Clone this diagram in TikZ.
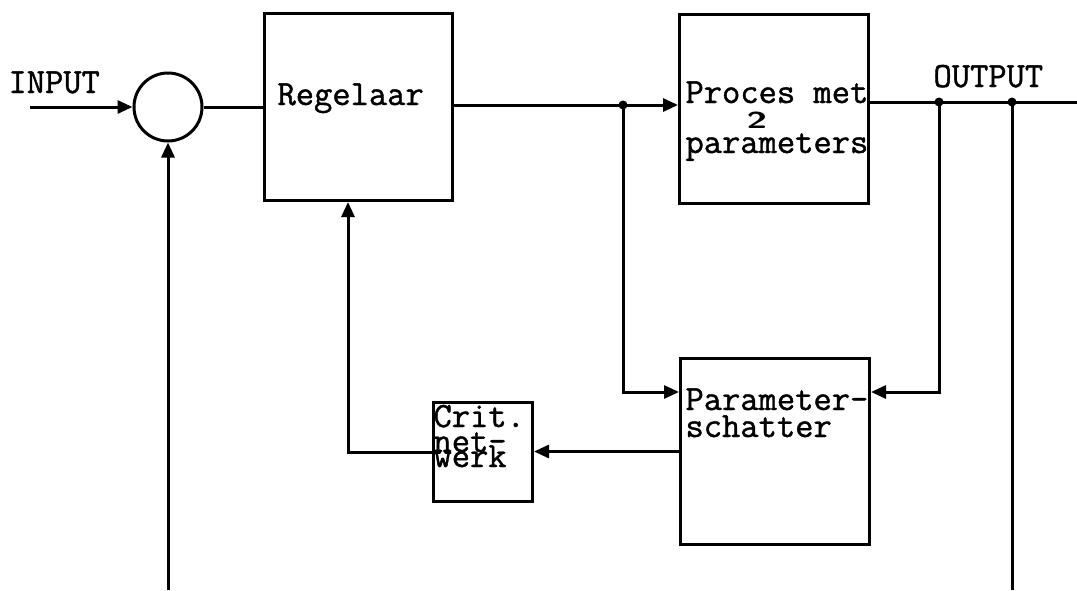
\documentclass[tikz,border=0pt]{standalone}
\usepackage{fontspec}
\newfontfamily\twfont{Latin Modern Mono}[FakeBold=1.2]
\usetikzlibrary{arrows.meta}
\begin{document}
\begin{tikzpicture}[x=1pt,y=-1pt,line width=3pt,
  blk/.style={draw,line width=3pt,inner sep=0pt,anchor=north west},
  lbl/.style={font=\fontsize{35.5}{35.5}\selectfont\twfont,anchor=base west,inner sep=0pt},
  arr/.style={-{Triangle[length=15pt,width=13pt]}},
  dot/.style={circle,fill,inner sep=0pt,minimum size=9pt}]
\useasboundingbox (0,0) rectangle (1077,590);
% blocks
\node[draw,circle,minimum size=68pt,inner sep=0pt] (sum) at (168,107) {};
\node[blk,minimum width=188pt,minimum height=187pt] (reg) at (263,12) {};
\node[blk,minimum width=189pt,minimum height=189pt] (proc) at (678,13) {};
\node[blk,minimum width=189pt,minimum height=186pt] (ps) at (679,357) {};
\node[blk,minimum width=99pt,minimum height=99pt] (crit) at (432,401) {};
% labels
\node[lbl] (tin) at (7,93) {INPUT};
\node[lbl] (tout) at (932,87) {OUTPUT};
\node[lbl] (treg) at (276,105) {Regelaar};
\node[lbl] (tp1) at (684,103) {Proces met};
\node[lbl,font=\fontsize{22}{22}\selectfont\bfseries\sffamily] (tp2) at (745,128) {\scalebox{1.7}[1.05]{2}};
\node[lbl] (tp3) at (684,153) {parameters};
\node[lbl] (tps1) at (684,410) {Parameter-};
\node[lbl] (tps2) at (684,437) {schatter};
\node[lbl] (tc1) at (432,427) {Crit.};
\node[lbl] (tc2) at (432,452) {net-};
\node[lbl] (tc3) at (432,467) {werk};
% coordinates
\coordinate (in) at (30,107);
\coordinate (j1) at (623,105);
\coordinate (a1) at (623,392);
\coordinate (o1) at (939,102);
\coordinate (o2) at (1012,102);
\coordinate (oend) at (1077,102);
\coordinate (a2) at (939,392);
\coordinate (o2b) at (1012,590);
\coordinate (a4) at (348,450);
\coordinate (fb) at (168,590);
% connectors
\draw[arr] (in) -- (sum.west);
\draw (sum.east) -- (sum.east -| reg.west);
\draw (reg.east |- j1) -- (j1);
\draw[arr] (j1) -- (j1 -| proc.west);
\draw[arr] (j1) -- (a1) -- (a1 -| ps.west);
\draw (proc.east |- o1) -- (oend);
\draw[arr] (o1) -- (a2) -- (a2 -| ps.east);
\draw (o2) -- (o2b);
\draw[arr] (ps.west) -- (ps.west -| crit.east);
\draw[arr] (crit.west) -- (crit.west -| a4) -- (a4 |- reg.south);
\draw[arr] (fb) -- (sum.south);
\node[dot] at (j1) {};
\node[dot] at (o1) {};
\node[dot] at (o2) {};
\end{tikzpicture}
\end{document}
